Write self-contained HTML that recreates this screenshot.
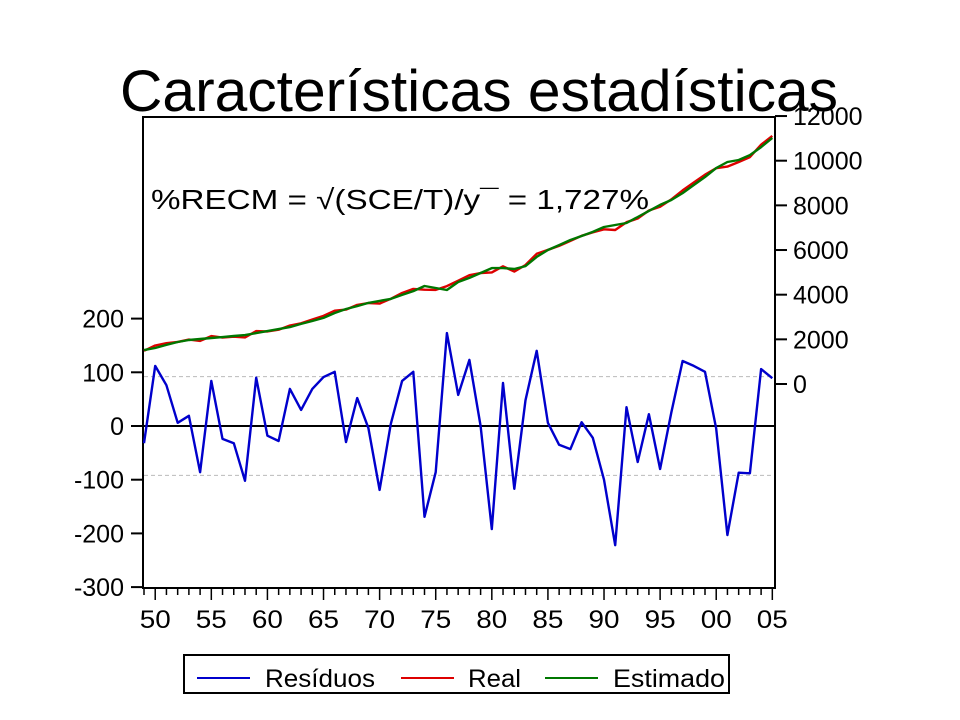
<!DOCTYPE html>
<html><head><meta charset="utf-8">
<style>
html,body{margin:0;padding:0;background:#fff;}
svg{display:block;font-family:"Liberation Sans",sans-serif;}
</style></head>
<body>
<svg id="chart" width="960" height="720" viewBox="0 0 960 720" xmlns="http://www.w3.org/2000/svg">
<text x="120" y="111" font-size="58" textLength="718" lengthAdjust="spacingAndGlyphs" fill="#000">Características estadísticas</text>
<rect x="143" y="117" width="632" height="471" fill="none" stroke="#000" stroke-width="2"/>
<g id="grid"></g>
<g id="axes"></g>
<g id="series"></g>
<text x="151" y="209" font-size="28" textLength="498" lengthAdjust="spacingAndGlyphs" fill="#000">%RECM = √(SCE/T)/y¯ = 1,727%</text>
<g>
<rect x="184" y="655" width="545" height="38" fill="#fff" stroke="#000" stroke-width="2"/>
<line x1="197" y1="678" x2="250" y2="678" stroke="#0000cc" stroke-width="2"/>
<text x="265" y="687" font-size="25" textLength="110" lengthAdjust="spacingAndGlyphs">Resíduos</text>
<line x1="401" y1="678" x2="454" y2="678" stroke="#dd0000" stroke-width="2"/>
<text x="468" y="687" font-size="25" textLength="53" lengthAdjust="spacingAndGlyphs">Real</text>
<line x1="545" y1="678" x2="598" y2="678" stroke="#007700" stroke-width="2"/>
<text x="613" y="687" font-size="25" textLength="112" lengthAdjust="spacingAndGlyphs">Estimado</text>
</g>
</svg>
<script>
const years = [];
for (let y = 1949; y <= 2005; y++) years.push(y);
const residuals = [-32,112,76,6,19,-86,84,-24,-32,-102,90,-18,-28,69,30,69,91,101,-30,52,-4,-119,4,84,101,-169,-86,173,58,123,0,-192,80,-117,48,140,6,-35,-43,7,-22,-100,-222,35,-67,22,-80,25,121,112,101,-5,-203,-87,-88,106,89];
const estimated = [1520,1610,1750,1880,1970,2015,2060,2100,2150,2190,2280,2370,2460,2550,2690,2820,2960,3180,3360,3490,3630,3720,3810,3990,4160,4390,4300,4210,4570,4750,4970,5190,5190,5150,5280,5690,6000,6220,6450,6630,6810,7030,7120,7210,7480,7750,8020,8240,8550,8910,9270,9670,9940,10030,10250,10610,11020];
const real = [1488,1722,1826,1886,1989,1929,2144,2076,2118,2088,2370,2352,2432,2619,2720,2889,3051,3281,3330,3542,3626,3601,3814,4074,4261,4221,4214,4383,4628,4873,4970,4998,5270,5033,5328,5830,6006,6185,6407,6637,6788,6930,6898,7245,7413,7772,7940,8265,8671,9022,9371,9665,9737,9943,10162,10716,11109];
const leftTicks = [200,100,0,-100,-200,-300];
const rightTicks = [0,2000,4000,6000,8000,10000,12000];
const xLabels = ["50","55","60","65","70","75","80","85","90","95","00","05"];
const bandLines = [92,-92];

const NS = "http://www.w3.org/2000/svg";
const xS = yr => 144 + (yr - 1949) * 11.22;
const yL = v => 426 - v * 0.537;
const yR = v => 384 - v * 0.02233;
function mk(tag, attrs, parent) {
  const e = document.createElementNS(NS, tag);
  for (const k in attrs) e.setAttribute(k, attrs[k]);
  parent.appendChild(e);
  return e;
}
const grid = document.getElementById('grid');
const axes = document.getElementById('axes');
const series = document.getElementById('series');

bandLines.forEach(v => {
  const l = mk('line', {x1:144, x2:774, y1:yL(v), y2:yL(v), stroke:'#bbb', 'stroke-width':1, 'stroke-dasharray':'4,3'}, grid);
  
  
});
const z = mk('line', {x1:144, x2:774, y1:yL(0), y2:yL(0), stroke:'#000', 'stroke-width':2}, grid);



leftTicks.forEach(v => {
  const t = mk('line', {x1:131, x2:143, y1:yL(v), y2:yL(v), stroke:'#000', 'stroke-width':2}, axes);
  
  
  const tx = mk('text', {x:124, y:yL(v)+9, 'font-size':25, 'text-anchor':'end'}, axes);
  tx.textContent = String(v);
  
  
});
rightTicks.forEach(v => {
  const t = mk('line', {x1:775, x2:787, y1:yR(v), y2:yR(v), stroke:'#000', 'stroke-width':2}, axes);
  
  
  const tx = mk('text', {x:793, y:yR(v)+9, 'font-size':25}, axes);
  tx.textContent = String(v);
  
  
});
years.forEach(yr => {
  const major = yr % 5 === 0;
  const t = mk('line', {x1:xS(yr), x2:xS(yr), y1:588, y2:major?600:595, stroke:'#000', 'stroke-width':1.5}, axes);
  
  
});
xLabels.forEach((lab, i) => {
  const yr = 1950 + i * 5;
  const tx = mk('text', {x:xS(yr), y:628, 'font-size':25, 'text-anchor':'middle', textLength:31, lengthAdjust:'spacingAndGlyphs'}, axes);
  tx.textContent = lab;
  
  
});

function line(vals, sc, color, name) {
  const pts = vals.map((v, i) => xS(years[i]).toFixed(1) + ',' + sc(v).toFixed(1)).join(' ');
  const p = mk('polyline', {points:pts, fill:'none', stroke:color, 'stroke-width':2.4, 'stroke-linejoin':'round'}, series);
  
  
}
line(residuals, yL, '#0000cc', 'residuals-line');
line(real, yR, '#dd0000', 'real-line');
line(estimated, yR, '#007700', 'estimated-line');
</script>
</body></html>
